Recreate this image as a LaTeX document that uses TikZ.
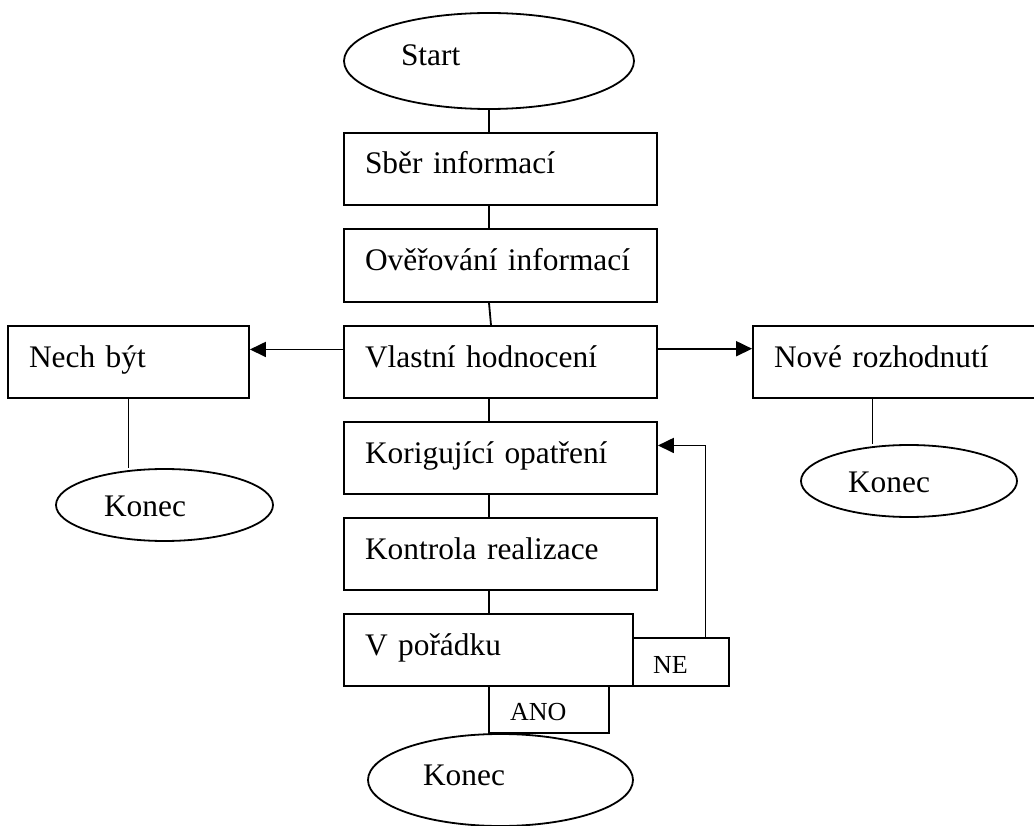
\documentclass[tikz,border=0pt]{standalone}
\usepackage{fontspec}
\setmainfont{Liberation Serif}
\usetikzlibrary{shapes.geometric,arrows.meta,calc}

\begin{document}
\begin{tikzpicture}[x=1pt,y=1pt,yscale=-1,xscale=1,
		line width=1.8pt,
		box/.style={draw, rectangle, inner xsep=21pt, inner ysep=0pt, align=left, minimum height=72pt,
			font=\fontsize{31.4}{36}\selectfont, text height=18.8pt, text depth=8.8pt},
		mainbox/.style={box, text width=271pt},
		smallbox/.style={box, inner xsep=20pt, font=\fontsize{26}{30}\selectfont, text height=24.7pt, text depth=2.6pt},
		oval/.style={draw, ellipse, inner sep=0pt, align=left,
			font=\fontsize{31.4}{36}\selectfont, text height=18.8pt, text depth=8.8pt},
		arrow/.style={-{Triangle[length=16pt,width=15pt]}}]
		% Diagram is 1034 wide and 826 high, the right box and the last oval run off the edge
		\useasboundingbox (0,0) rectangle (1034,826);
		\clip (0,0) rectangle (1034,826);

		% Start and end ovals
		\node[oval, minimum width=290pt, minimum height=96pt, text width=176pt] (start) at (489,61) {Start};
		\node[oval, minimum width=217pt, minimum height=72pt, text width=121pt, text height=28.3pt, text depth=6.3pt] (konecL) at (164.5,505) {Konec};
		\node[oval, minimum width=216pt, minimum height=72pt, text width=122pt, text height=28.3pt, text depth=6.3pt] (konecR) at (909,481) {Konec};
		\node[oval, minimum width=265pt, minimum height=92pt, text width=155pt] (konecB) at (500.5,780) {Konec};

		% Main column of steps
		\node[mainbox] (sber) at (500.5,169) {Sběr informací};
		\node[mainbox, minimum height=73pt] (overeni) at (500.5,265.5) {Ověřování informací};
		\node[mainbox] (vlastni) at (500.5,362) {Vlastní hodnocení};
		\node[mainbox] (korig) at (500.5,458) {Korigující opatření};
		\node[mainbox] (kontrola) at (500.5,554) {Kontrola realizace};
		\node[box, text width=247pt] (poradek) at (488.5,650) {V pořádku};

		% Side branches
		\node[box, text width=199pt] (nech) at (128.5,362) {Nech být};
		\node[box, text width=250pt] (nove) at (899,362) {Nové rozhodnutí};

		% Answer boxes
		\node[smallbox, text width=56pt, minimum height=48pt] (ne) at (681,662) {NE};
		\node[smallbox, inner xsep=21pt, text width=78pt, minimum height=47pt] (ano) at (549,709.5) {ANO};

		% Stem lines down the main column
		\draw (start.south) -- (sber.north -| start);
		\draw (sber.south -| start) -- (overeni.north -| start);
		\draw (overeni.south -| start) -- ($(vlastni.north -| start)+(2,0)$);
		\draw (vlastni.south -| start) -- (korig.north -| start);
		\draw (korig.south -| start) -- (kontrola.north -| start);
		\draw (kontrola.south -| start) -- (poradek.north -| start);

		% Arrows out to both sides
		\coordinate (vl) at ($(vlastni.north west)!0.33!(vlastni.south west)$);
		\coordinate (vr) at ($(vlastni.north east)!0.32!(vlastni.south east)$);
		\draw[arrow] (vl) -- (vl -| nech.east);
		\draw[arrow] (vr) -- (vr -| nove.west);

		% Down to the end ovals
		\coordinate (nd) at ($(nove.south west)!0.41!(nove.south east)$);
		\draw (nech.south) -- (nech.south |- konecL.north);
		\draw (nd) -- (nd |- konecR.north);

		% Loop back from NE
		\coordinate (fb) at ($(ne.north west)!0.75!(ne.north east)$);
		\coordinate (kr) at ($(korig.north east)!0.33!(korig.south east)$);
		\draw[arrow] (fb) |- (kr);
	\end{tikzpicture}
\end{document}
